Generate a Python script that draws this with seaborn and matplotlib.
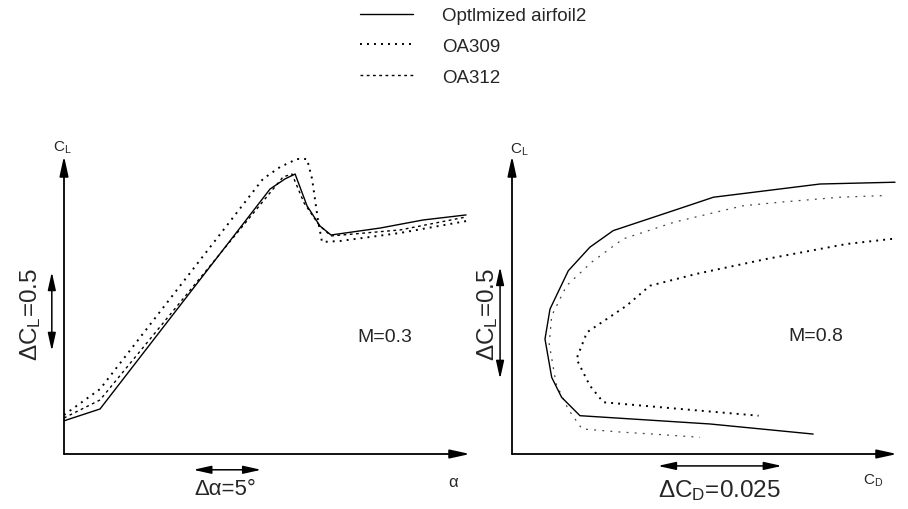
import matplotlib
matplotlib.use("Agg")
import matplotlib.pyplot as plt
import pandas as pd
import seaborn as sns

# ---- Lift curves at M=0.3 (angle of attack in deg, lift coefficient) ----
alpha_opt = [-4.0, -1.35, 11.15, 12.25, 12.99, 13.87, 14.82, 15.63, 19.24, 22.40, 25.56]
cl_a_opt = [0.21, 0.285, 1.677, 1.741, 1.772, 1.570, 1.443, 1.386, 1.430, 1.481, 1.513]

alpha_309 = [-4.0, -1.35, 10.63, 11.88, 13.13, 13.87, 14.24, 14.68, 14.97, 16.29, 20.71, 25.63]
cl_a_309 = [0.247, 0.411, 1.741, 1.816, 1.867, 1.867, 1.741, 1.475, 1.342, 1.348, 1.399, 1.475]

alpha_312 = [-4.0, -1.35, 12.10, 12.76, 13.65, 14.75, 15.63, 20.71, 25.56]
cl_a_312 = [0.228, 0.342, 1.753, 1.772, 1.589, 1.449, 1.380, 1.418, 1.500]

# ---- Drag polars at M=0.8 (drag coefficient, lift coefficient) ----
cd_opt = [0.0772, 0.0621, 0.0406, 0.0325, 0.0204, 0.0157, 0.01135, 0.00766, 0.00665,
          0.0080, 0.0100, 0.0137, 0.0399, 0.0607]
cl_d_opt = [1.213, 1.205, 1.146, 1.086, 0.997, 0.923, 0.818, 0.647, 0.513,
            0.342, 0.253, 0.171, 0.134, 0.089]

cd_309 = [0.0766, 0.0675, 0.0514, 0.0372, 0.0278, 0.0231, 0.0151, 0.0130, 0.0157,
          0.0184, 0.0339, 0.0497]
cl_d_309 = [0.960, 0.9375, 0.871, 0.804, 0.751, 0.662, 0.543, 0.424, 0.305,
            0.231, 0.201, 0.171]

cd_312 = [0.0745, 0.0661, 0.0546, 0.0466, 0.0329, 0.0224, 0.0161, 0.0110, 0.0080,
          0.0075, 0.0089, 0.0113, 0.0141, 0.0218, 0.0284, 0.0379]
cl_d_312 = [1.153, 1.146, 1.125, 1.108, 1.036, 0.960, 0.857, 0.751, 0.617,
            0.491, 0.3125, 0.201, 0.112, 0.098, 0.089, 0.0745]

series = ["Optlmized airfoil2", "OA309", "OA312"]

# scale bars
d_alpha, d_cl, d_cd = 5, 0.5, 0.025

sns.set_theme(style="white")
plt.rcParams["font.family"] = ["Liberation Sans", "DejaVu Sans"]
plt.rcParams["mathtext.fontset"] = "custom"
plt.rcParams["mathtext.rm"] = "Liberation Sans"
plt.rcParams["mathtext.it"] = "Liberation Sans:italic"
plt.rcParams["mathtext.default"] = "rm"

W, H = 908, 510
fig = plt.figure(figsize=(W / 100, H / 100), dpi=100)
fig.patch.set_facecolor("white")

ax1 = fig.add_axes([64 / W, 55 / H, 406 / W, 298 / H])
ax2 = fig.add_axes([512 / W, 55 / H, 385 / W, 298 / H])

styles_lift = {
    series[0]: dict(linestyle="-", linewidth=1.0, color="black"),
    series[1]: dict(linestyle=(0, (1, 2.6)), linewidth=1.4, color="black"),
    series[2]: dict(linestyle=(0, (2, 2.5)), linewidth=1.0, color="black"),
}
styles_polar = {
    series[0]: dict(linestyle="-", linewidth=1.0, color="black"),
    series[1]: dict(linestyle=(0, (1, 2.6)), linewidth=1.4, color="black"),
    series[2]: dict(linestyle=(0, (1.5, 5)), linewidth=0.9, color="#444444"),
}

lift = {
    series[0]: (alpha_opt, cl_a_opt),
    series[1]: (alpha_309, cl_a_309),
    series[2]: (alpha_312, cl_a_312),
}
polar = {
    series[0]: (cd_opt, cl_d_opt),
    series[1]: (cd_309, cl_d_309),
    series[2]: (cd_312, cl_d_312),
}

for name in [series[2], series[1], series[0]]:
    x, y = lift[name]
    sns.lineplot(data=pd.DataFrame({"x": x, "y": y}), x="x", y="y", ax=ax1,
                 sort=False, estimator=None, label=name,
                 clip_on=False, **styles_lift[name])
    x, y = polar[name]
    sns.lineplot(data=pd.DataFrame({"x": x, "y": y}), x="x", y="y", ax=ax2,
                 sort=False, estimator=None,
                 clip_on=False, legend=False, **styles_polar[name])

ax1.set_xlim(-4, 25.85)
ax1.set_ylim(0, 1.886)
ax2.set_xlim(0, 0.0776)
ax2.set_ylim(0, 1.33)

axis_arrow = dict(arrowstyle="-|>,head_length=1.0,head_width=0.22", color="black",
                  lw=1.3, shrinkA=0, shrinkB=0)
bar_arrow = dict(arrowstyle="<|-|>,head_length=0.9,head_width=0.2", color="black",
                 lw=1.1, shrinkA=0, shrinkB=0)

for ax in (ax1, ax2):
    for s in ax.spines.values():
        s.set_visible(False)
    ax.set_xticks([])
    ax.set_yticks([])
    ax.set_xlabel("")
    ax.set_ylabel("")
    ax.patch.set_alpha(0)
    ax.annotate("", xy=(1, 0), xytext=(0, 0), xycoords="axes fraction",
                arrowprops=axis_arrow, annotation_clip=False)
    ax.annotate("", xy=(0, 1), xytext=(0, 0), xycoords="axes fraction",
                arrowprops=axis_arrow, annotation_clip=False)

# scale bars drawn in data units
a0 = 5.5
ax1.annotate("", xy=(a0 + d_alpha, -0.053), xytext=(a0, -0.053),
             xycoords=("data", "axes fraction"), arrowprops=bar_arrow,
             annotation_clip=False)
c0 = 0.652
ax1.annotate("", xy=(-0.030, c0 + d_cl), xytext=(-0.030, c0),
             xycoords=("axes fraction", "data"), arrowprops=bar_arrow,
             annotation_clip=False)
c1 = 0.335
ax2.annotate("", xy=(-0.031, c1 + d_cl), xytext=(-0.031, c1),
             xycoords=("axes fraction", "data"), arrowprops=bar_arrow,
             annotation_clip=False)
d0 = 0.0294
ax2.annotate("", xy=(d0 + d_cd, -0.040), xytext=(d0, -0.040),
             xycoords=("data", "axes fraction"), arrowprops=bar_arrow,
             annotation_clip=False)


def ftext(px, py, s, **kw):
    kw.setdefault("ha", "center")
    kw.setdefault("va", "center")
    fig.text(px / W, 1 - py / H, s, **kw)


ftext(225, 490, "Δα=5°", fontsize=16)
ftext(719, 491, "ΔC$_{\\mathrm{D}}$=0.025", fontsize=17.5)
ftext(31, 315, "ΔC$_{\\mathrm{L}}$=0.5", fontsize=17.5, rotation=90)
ftext(488, 315, "ΔC$_{\\mathrm{L}}$=0.5", fontsize=17.5, rotation=90)
ftext(385, 338, "M=0.3", fontsize=14)
ftext(816, 337, "M=0.8", fontsize=14)
ftext(453, 483, "α", fontsize=12)
ftext(873, 481, "C$_{\\mathrm{D}}$", fontsize=11)
ftext(62, 148, "C$_{\\mathrm{L}}$", fontsize=11)
ftext(519, 150, "C$_{\\mathrm{L}}$", fontsize=11)

handles, labels = ax1.get_legend_handles_labels()
order = [labels.index(n) for n in series]
if ax1.get_legend() is not None:
    ax1.get_legend().remove()
fig.legend([handles[i] for i in order], [labels[i] for i in order],
           loc="upper left", bbox_to_anchor=(360 / W, 1 - 8 / H),
           frameon=False, fontsize=13.5, handlelength=2.85, handletextpad=1.55,
           labelspacing=0.73, borderpad=0, borderaxespad=0)

fig.savefig("out.png", dpi=100, facecolor="white")
